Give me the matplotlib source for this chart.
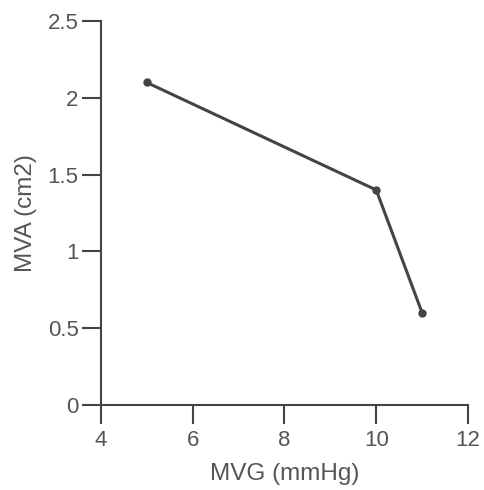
import matplotlib
matplotlib.use('Agg')
from matplotlib import pyplot as plt

mvg = [5, 10, 11]
mva = [2.1, 1.4, 0.6]
xticks = [4, 6, 8, 10, 12]
yticks = [0, 0.5, 1, 1.5, 2, 2.5]
ytick_labels = ['0', '0.5', '1', '1.5', '2', '2.5']

plt.rcParams['font.family'] = ['Liberation Sans', 'DejaVu Sans']
grey = '#555555'

fig = plt.figure(figsize=(4.85, 4.9), dpi=100)
ax = fig.add_axes([0.208, 0.1735, 0.757, 0.7835])
ax.plot(mvg, mva, color='#444444', lw=2.2, marker='o', ms=5)
ax.set_xlim(4, 12)
ax.set_ylim(0, 2.5)
ax.set_xticks(xticks)
ax.set_yticks(yticks, ytick_labels)
for s in ['top', 'right']:
    ax.spines[s].set_visible(False)
for s in ['left', 'bottom']:
    ax.spines[s].set_color('#444444')
    ax.spines[s].set_linewidth(1.5)
ax.tick_params(direction='out', length=14, width=1.5, color='#444444',
               labelsize=16, labelcolor=grey)
ax.tick_params(axis='x', pad=4)
ax.tick_params(axis='y', pad=2)
ax.set_xlabel('MVG (mmHg)', fontsize=17.5, color=grey, labelpad=9)
ax.set_ylabel('MVA (cm2)', fontsize=17.5, color=grey, labelpad=8)
fig.savefig('out.png', dpi=100)
